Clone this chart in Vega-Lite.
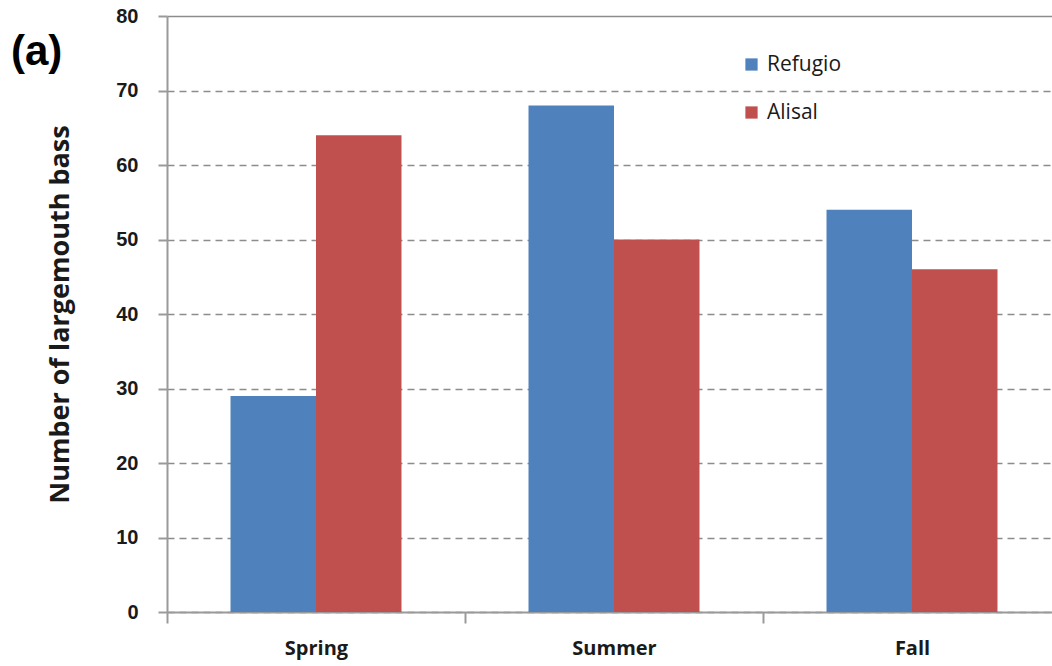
{
  "$schema": "https://vega.github.io/schema/vega-lite/v6.json",
  "width": 894,
  "height": 596,
  "autosize": {"type": "none"},
  "padding": {"left": 167, "top": 16, "right": 0, "bottom": 54},
  "background": "white",
  "title": {
    "text": "(a)",
    "anchor": "start",
    "frame": "group",
    "orient": "top",
    "offset": 0,
    "baseline": "alphabetic",
    "dx": -156,
    "dy": 101,
    "font": "Liberation Sans",
    "fontSize": 42,
    "fontWeight": "bold",
    "color": "#000000"
  },
  "data": {
    "values": [
      {"season": "Spring", "site": "Refugio", "count": 29},
      {"season": "Spring", "site": "Alisal", "count": 64},
      {"season": "Summer", "site": "Refugio", "count": 68},
      {"season": "Summer", "site": "Alisal", "count": 50},
      {"season": "Fall", "site": "Refugio", "count": 54},
      {"season": "Fall", "site": "Alisal", "count": 46}
    ]
  },
  "mark": {"type": "bar"},
  "encoding": {
    "x": {
      "field": "season",
      "type": "nominal",
      "sort": ["Spring", "Summer", "Fall"],
      "scale": {"paddingInner": 0, "paddingOuter": 0},
      "axis": {
        "title": null,
        "labelAngle": 0,
        "tickBand": "extent",
        "grid": false,
        "domainColor": "#9a9a9a",
        "domainWidth": 2,
        "tickColor": "#9a9a9a",
        "tickWidth": 2,
        "tickSize": 11,
        "labelFont": "Open Sans",
        "labelFontSize": 20,
        "labelFontWeight": "bold",
        "labelColor": "#1a1a1a",
        "labelPadding": 15
      }
    },
    "xOffset": {
      "field": "site",
      "type": "nominal",
      "sort": ["Refugio", "Alisal"],
      "scale": {"paddingInner": 0, "paddingOuter": 0.743}
    },
    "y": {
      "field": "count",
      "type": "quantitative",
      "scale": {"domain": [0, 80], "nice": false},
      "axis": {
        "title": "Number of largemouth bass",
        "titleFont": "Open Sans",
        "titleFontSize": 27,
        "titleFontWeight": "bold",
        "titleColor": "#1a1a1a",
        "titlePadding": 41,
        "values": [0, 10, 20, 30, 40, 50, 60, 70, 80],
        "labelFont": "Liberation Sans",
        "labelFontSize": 20,
        "labelFontWeight": "bold",
        "labelColor": "#1a1a1a",
        "labelPadding": 20,
        "tickSize": 9,
        "tickColor": "#9a9a9a",
        "tickWidth": 2,
        "domainColor": "#9a9a9a",
        "domainWidth": 2,
        "grid": true,
        "gridColor": "#8c8c8c",
        "gridWidth": 1.5,
        "gridDash": {"condition": {"test": "datum.value === 80", "value": []}, "value": [7, 5]}
      }
    },
    "color": {
      "field": "site",
      "type": "nominal",
      "sort": ["Refugio", "Alisal"],
      "scale": {"domain": ["Refugio", "Alisal"], "range": ["#4F81BD", "#C0504D"]},
      "legend": {
        "title": null,
        "orient": "none",
        "legendX": 574,
        "legendY": 38,
        "symbolType": "square",
        "symbolSize": 150,
        "symbolStrokeWidth": 0,
        "symbolOpacity": 1,
        "labelFont": "Open Sans",
        "labelFontSize": 21,
        "labelColor": "#1a1a1a",
        "labelOffset": 5,
        "rowPadding": 26
      }
    }
  },
  "config": {
    "view": {"stroke": null},
    "axis": {"ticks": true}
  }
}
